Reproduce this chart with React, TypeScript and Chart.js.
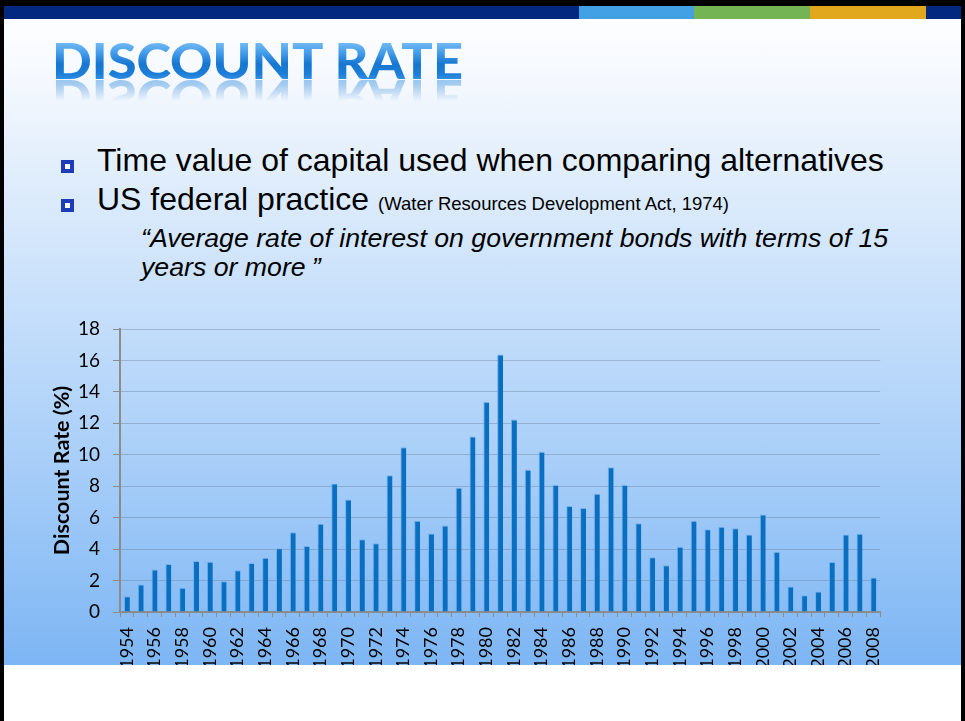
import React, { useEffect, useLayoutEffect, useRef } from 'react';
import { Chart, registerables } from 'chart.js';

Chart.register(...registerables);

// ---- data ----
const years: string[] = [
  '1954', '1955', '1956', '1957', '1958', '1959', '1960', '1961', '1962', '1963',
  '1964', '1965', '1966', '1967', '1968', '1969', '1970', '1971', '1972', '1973',
  '1974', '1975', '1976', '1977', '1978', '1979', '1980', '1981', '1982', '1983',
  '1984', '1985', '1986', '1987', '1988', '1989', '1990', '1991', '1992', '1993',
  '1994', '1995', '1996', '1997', '1998', '1999', '2000', '2001', '2002', '2003',
  '2004', '2005', '2006', '2007', '2008',
];

const discountRates: number[] = [
  1.0, 1.75, 2.7, 3.05, 1.55, 3.25, 3.2, 1.95, 2.65, 3.12,
  3.45, 4.05, 5.08, 4.2, 5.62, 8.18, 7.15, 4.62, 4.38, 8.7,
  10.48, 5.8, 5.0, 5.5, 7.9, 11.17, 13.35, 16.38, 12.25, 9.05,
  10.2, 8.07, 6.75, 6.62, 7.52, 9.2, 8.07, 5.65, 3.48, 2.97,
  4.15, 5.8, 5.27, 5.42, 5.32, 4.93, 6.2, 3.83, 1.62, 1.07,
  1.3, 3.18, 4.93, 4.97, 2.2,
];

const yAxisMin = 0;
const yAxisMax = 18;
const yAxisStep = 2;
const yAxisTitle = 'Discount Rate (%)';

const TITLE_TEXT = 'DISCOUNT RATE';
const TITLE_WIDTH = 411;

const bulletStyle: React.CSSProperties = {
  position: 'absolute',
  width: 5,
  height: 5,
  border: '4px solid #1d3db8',
  background: '#ffffff',
};

export default function App() {
  const canvasRef = useRef<HTMLCanvasElement>(null);
  const titleRef = useRef<HTMLSpanElement>(null);

  useLayoutEffect(() => {
    const el = titleRef.current;
    if (!el) return;
    el.style.transform = 'none';
    const w = el.getBoundingClientRect().width;
    if (w > 0) el.style.transform = `scaleX(${TITLE_WIDTH / w})`;
  }, []);

  useEffect(() => {
    if (!canvasRef.current) return;
    const chart = new Chart(canvasRef.current, {
      type: 'bar',
      data: {
        labels: years,
        datasets: [
          {
            data: discountRates,
            backgroundColor: '#0a6fc1',
            borderColor: 'rgba(110,175,235,0.9)',
            borderWidth: { top: 1, left: 1, right: 0, bottom: 0 },
            borderSkipped: 'start',
            barPercentage: 0.43,
            categoryPercentage: 1,
          },
        ],
      },
      options: {
        responsive: false,
        maintainAspectRatio: false,
        animation: false,
        layout: { padding: { top: 29, right: 8.5, left: 0, bottom: 0 } },
        plugins: { legend: { display: false }, tooltip: { enabled: false } },
        scales: {
          x: {
            grid: {
              display: true,
              drawOnChartArea: false,
              drawTicks: true,
              tickLength: 5,
              color: '#8c8c8c',
              lineWidth: 1,
              offset: true,
            },
            border: { display: true, color: '#8c8c8c', width: 2 },
            ticks: {
              autoSkip: false,
              maxRotation: 90,
              minRotation: 90,
              padding: 10,
              color: '#000000',
              font: { family: 'Lato', size: 18 },
              callback: (_v: any, i: number) => (i % 2 === 0 ? years[i] : ''),
            },
            afterFit: (s: any) => {
              s.height = 88;
            },
          },
          y: {
            min: yAxisMin,
            max: yAxisMax,
            ticks: {
              stepSize: yAxisStep,
              padding: 13,
              color: '#000000',
              font: { family: 'Lato', size: 19 },
            },
            grid: {
              color: 'rgba(105,125,150,0.4)',
              lineWidth: 1,
              drawTicks: true,
              tickLength: 7,
              tickColor: '#8c8c8c',
            },
            border: { display: true, color: '#8c8c8c', width: 2 },
            title: {
              display: true,
              text: yAxisTitle,
              color: '#000000',
              font: { family: 'Lato', size: 21.5, weight: 'bold' },
              padding: { top: 29, bottom: 0 },
            },
            afterFit: (s: any) => {
              s.width = 100;
            },
          },
        },
      },
    } as any);
    return () => chart.destroy();
  }, []);

  return (
    <div
      style={{
        position: 'absolute',
        left: 0,
        top: 0,
        width: 965,
        height: 721,
        background: '#000000',
        overflow: 'hidden',
      }}
    >
      {/* slide body */}
      <div
        style={{
          position: 'absolute',
          left: 4,
          top: 6,
          width: 957,
          height: 715,
          background: '#ffffff',
        }}
      />
      {/* top band */}
      <div style={{ position: 'absolute', left: 4, top: 6, width: 957, height: 13, background: '#03287f' }} />
      <div style={{ position: 'absolute', left: 579, top: 6, width: 115, height: 13, background: '#42a0e4' }} />
      <div style={{ position: 'absolute', left: 694, top: 6, width: 116, height: 13, background: '#74b455' }} />
      <div style={{ position: 'absolute', left: 810, top: 6, width: 116, height: 13, background: '#e2a81d' }} />
      {/* gradient background */}
      <div
        style={{
          position: 'absolute',
          left: 4,
          top: 19,
          width: 957,
          height: 646,
          background:
            'linear-gradient(to bottom, #fdfeff 0%, #f4f8fe 10%, #e3effc 22%, #c6dffb 45%, #a6cdf8 70%, #7db6f4 100%)',
        }}
      />
      {/* title */}
      <div style={{ position: 'absolute', left: 52, top: 34.6, height: 50, whiteSpace: 'nowrap' }}>
        <span
          ref={titleRef}
          style={{
            display: 'inline-block',
            transformOrigin: 'left top',
            fontFamily: 'Lato',
            fontWeight: 900,
            fontSize: 50,
            lineHeight: '50px',
            height: 50,
            color: 'transparent',
            backgroundImage:
              'linear-gradient(to bottom, #8ac8f7 0%, #6cb6f2 18%, #3f99e8 38%, #1676d0 58%, #1c7ed8 78%, #4aa3ec 100%)',
            WebkitBackgroundClip: 'text',
            backgroundClip: 'text',
            WebkitBoxReflect:
              'below -11px linear-gradient(to bottom, transparent 45%, rgba(255,255,255,0.6) 100%)',
          } as any}
        >
          {TITLE_TEXT}
        </span>
      </div>
      {/* bullets */}
      <div style={{ ...bulletStyle, left: 61, top: 159.5 }} />
      <div style={{ ...bulletStyle, left: 61, top: 198.5 }} />
      <div
        style={{
          position: 'absolute',
          left: 97,
          top: 143.9,
          fontFamily: '"Liberation Sans", Arial, sans-serif',
          fontSize: 32,
          lineHeight: '32px',
          color: '#000',
          whiteSpace: 'nowrap',
        }}
      >
        Time value of capital used when comparing alternatives
      </div>
      <div
        style={{
          position: 'absolute',
          left: 97,
          top: 182.9,
          fontFamily: '"Liberation Sans", Arial, sans-serif',
          fontSize: 32,
          lineHeight: '32px',
          color: '#000',
          whiteSpace: 'nowrap',
        }}
      >
        US federal practice{' '}
        <span style={{ fontSize: 18.5 }}>(Water Resources Development Act, 1974)</span>
      </div>
      <div
        style={{
          position: 'absolute',
          left: 141,
          top: 224.3,
          fontFamily: '"Liberation Sans", Arial, sans-serif',
          fontStyle: 'italic',
          fontSize: 26.7,
          lineHeight: '29px',
          color: '#000',
          whiteSpace: 'nowrap',
        }}
      >
        “Average rate of interest on government bonds with terms of 15
        <br />
        years or more<span style={{ marginLeft: 6 }}>”</span>
      </div>
      {/* chart */}
      <canvas
        ref={canvasRef}
        width={885}
        height={400}
        style={{ position: 'absolute', left: 20, top: 300, width: 885, height: 400 }}
      />
      {/* white lower area that clips the axis labels */}
      <div
        style={{
          position: 'absolute',
          left: 4,
          top: 665,
          width: 957,
          height: 56,
          background: '#ffffff',
        }}
      />
    </div>
  );
}
